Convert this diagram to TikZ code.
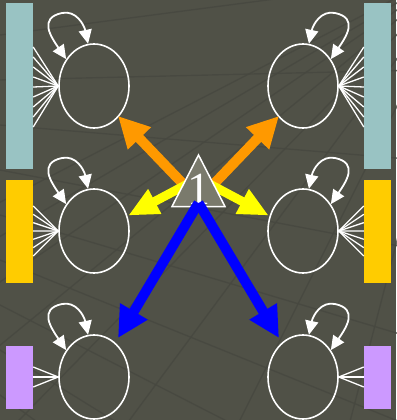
\documentclass[tikz,border=0pt]{standalone}
\usepackage{fontspec}
\setmainfont{Liberation Serif}
\usetikzlibrary{arrows.meta,shapes.geometric,calc}
\definecolor{bg}{HTML}{505147}
\definecolor{gridline}{HTML}{474840}
\definecolor{barteal}{HTML}{99C3C3}
\definecolor{baryellow}{HTML}{FFCC00}
\definecolor{barpurple}{HTML}{CC99FF}
\definecolor{hubgray}{HTML}{7A7A6C}
\definecolor{arrorange}{HTML}{FF9900}
\definecolor{arryellow}{HTML}{FFFF00}
\definecolor{arrblue}{HTML}{0000FF}
\begin{document}
\begin{tikzpicture}[x=1pt,y=-1pt,
  state/.style={draw=white,line width=1.6pt,ellipse,minimum width=70pt,minimum height=84pt,inner sep=0pt},
  bar/.style={rectangle,inner sep=0pt,minimum width=27pt},
  fan/.style={white,line width=1.3pt},
  selfloop/.style={white,line width=1.8pt,{Triangle[length=14pt,width=13pt]}-{Triangle[length=14pt,width=13pt]}},
  fatarrow/.style={line width=10pt,-{Triangle[length=31pt,width=30pt]}},
  thinarrow/.style={line width=9pt,-{Triangle[length=30pt,width=26pt]}},
]
% background and bounding box
\fill[bg] (0,0) rectangle (396,420);
\useasboundingbox (0,0) rectangle (396,420);

% faint perspective grid
\begin{scope}[gridline,line width=1.4pt,opacity=0.8]
  \foreach \x in {-500,-380,...,900}
    \draw (470,-40) -- (\x,460);
  \foreach \y in {-200,-110,...,700}
    \draw (-420,90) -- (420,\y);
\end{scope}

% side bars
\node[bar,fill=barteal,minimum height=166pt]   (bl1) at (19.5,86)   {};
\node[bar,fill=baryellow,minimum height=103pt] (bl2) at (19.5,231.5) {};
\node[bar,fill=barpurple,minimum height=63pt]  (bl3) at (19.5,377.5) {};
\node[bar,fill=barteal,minimum height=166pt]   (br1) at (377.5,86)   {};
\node[bar,fill=baryellow,minimum height=103pt] (br2) at (377.5,231.5) {};
\node[bar,fill=barpurple,minimum height=63pt]  (br3) at (377.5,377.5) {};

% states
\node[state] (sl1) at (94,86)  {};
\node[state] (sl2) at (94,231) {};
\node[state] (sl3) at (94,377) {};
\node[state] (sr1) at (303,86)  {};
\node[state] (sr2) at (303,231) {};
\node[state] (sr3) at (303,377) {};

% fans from the bars to the states
\foreach \y in {47,57,...,127} {
  \draw[fan] (sl1.west) -- (bl1.east |- 0,\y);
  \draw[fan] (sr1.east) -- (br1.west |- 0,\y);
}
\foreach \i in {0,...,6} {
  \draw[fan] (sl2.west) -- (bl2.east |- 0,{206+8.33*\i});
  \draw[fan] (sr2.east) -- (br2.west |- 0,{206+8.33*\i});
}
\foreach \y in {367,377,387} {
  \draw[fan] (sl3.west) -- (bl3.east |- 0,\y);
  \draw[fan] (sr3.east) -- (br3.west |- 0,\y);
}

% self loops
\foreach \n/\s/\a/\b in {sl1/1/136/98,sl2/1/136/98,sl3/1/136/98,
                          sr1/-1/44/82,sr2/-1/44/82,sr3/-1/44/82} {
  \draw[selfloop] (\n.\a) .. controls +({-15*\s},-22) and +({-24*\s},5) ..
    ($(\n)+({-32*\s},-73)$) .. controls +({14*\s},-3) and +({-4*\s},-19) .. (\n.\b);
}

% hub: start points of the thick arrows
\coordinate (oL) at (187,188);
\coordinate (oR) at (210,188);
\coordinate (yL) at (190,182.7);
\coordinate (yR) at (207,182.7);
\coordinate (bS) at (198.5,203);
% arrow ends
\coordinate (oLt) at (118,116);
\coordinate (oRt) at (279,116);
\coordinate (yLt) at (128.3,215.5);
\coordinate (yRt) at (268.7,215.5);
\coordinate (bLt) at (118,338);
\coordinate (bRt) at (279,338);

\draw[fatarrow,arrorange] (oL) -- (oLt);
\draw[fatarrow,arrorange] (oR) -- (oRt);
\draw[thinarrow,arryellow] (yL) -- (yLt);
\draw[thinarrow,arryellow] (yR) -- (yRt);

% hub triangle
\filldraw[fill=hubgray,draw=white,line width=1.5pt,line join=miter]
  (198.5,155) -- (172,206.5) -- (225,206.5) -- cycle;
\node[text=white,font=\fontsize{46}{46}\selectfont,inner sep=0pt,anchor=base]
  (hub) at (198.5,204) {1};

\draw[fatarrow,arrblue] (bS) -- (bLt);
\draw[fatarrow,arrblue] (bS) -- (bRt);
\end{tikzpicture}
\end{document}
